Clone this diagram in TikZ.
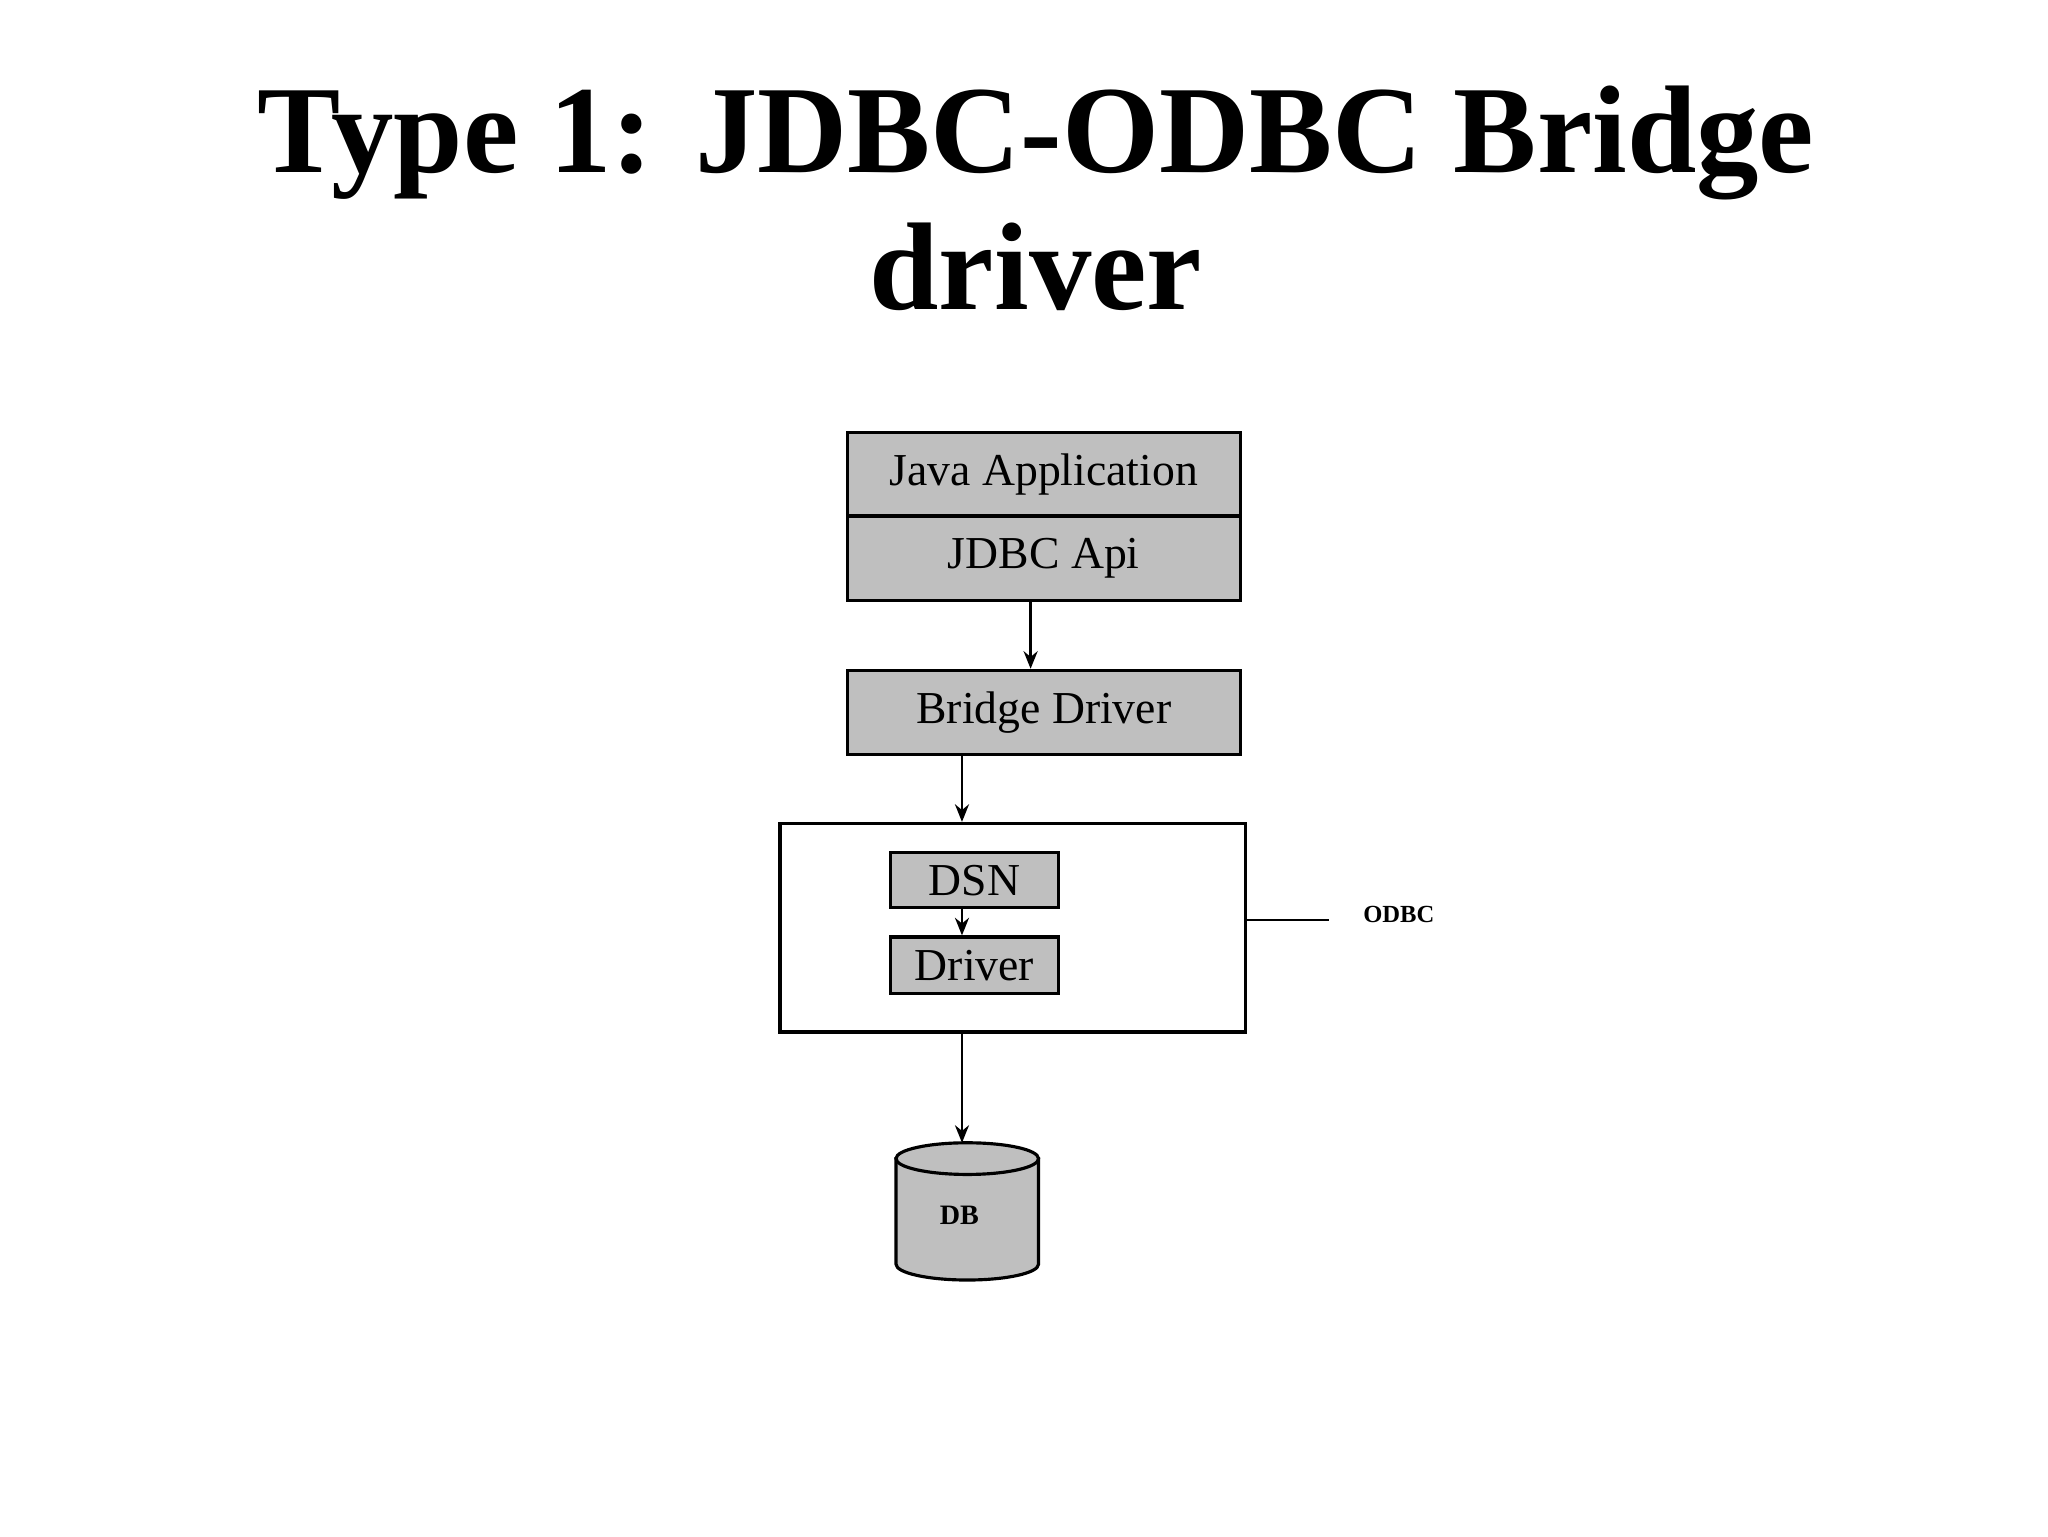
\documentclass[tikz,border=0pt]{standalone}
\usepackage{fontspec}
\setmainfont{Liberation Serif}
\usetikzlibrary{arrows.meta}
\begin{document}
\begin{tikzpicture}[x=0.013196cm,y=-0.013196cm,
  box/.style={draw,line width=0.9pt,fill=gray!50,inner sep=0pt,font=\fontsize{13}{15}\selectfont},
  arr/.style={-{Stealth[length=5pt,width=4pt]},line width=0.7pt}]
\useasboundingbox (0,0) rectangle (1552,1164);
\node[font=\bfseries\fontsize{35.5}{39}\selectfont,align=center] (title) at (785,150) {Type 1: JDBC-ODBC Bridge\\driver};
\node[box,minimum width=3.932cm,minimum height=0.831cm] (java) at (791,359.5) {Java Application};
\node[box,minimum width=3.932cm,minimum height=0.845cm] (jdbc) at (791,423) {JDBC Api};
\node[box,minimum width=3.932cm,minimum height=0.845cm] (bridge) at (791,540) {Bridge Driver};
\node[draw,line width=0.9pt,minimum width=4.658cm,minimum height=2.085cm,inner sep=0pt] (odbc) at (767.5,703) {};
\node[box,minimum width=1.676cm,minimum height=0.554cm] (dsn) at (738.5,667) {DSN};
\node[box,minimum width=1.676cm,minimum height=0.567cm] (drv) at (738.5,731.5) {Driver};
\node[font=\bfseries\fontsize{7}{8}\selectfont] (odbcl) at (1060,693) {ODBC};
\draw[line width=0.7pt] (odbc.east |- 0,697) -- (1007,697);
\draw[arr] (jdbc.south -| 781,0) -- (bridge.north -| 781,0);
\draw[arr] (bridge.south -| 729,0) -- (odbc.north -| 729,0);
\draw[arr] (dsn.south -| 729,0) -- (drv.north -| 729,0);
\coordinate (dbtop) at (729,866);
% cylinder
\draw[line width=0.9pt,fill=gray!50] (679,878) -- (679,958) arc[start angle=180,end angle=0,x radius=54,y radius=12] -- (787,878) -- cycle;
\draw[line width=0.9pt,fill=gray!50] (733,878) ellipse[x radius=54,y radius=12];
\node[font=\bfseries\fontsize{8}{9}\selectfont] (db) at (727,921) {DB};
\draw[arr] (odbc.south -| 729,0) -- (dbtop);
\end{tikzpicture}
\end{document}
